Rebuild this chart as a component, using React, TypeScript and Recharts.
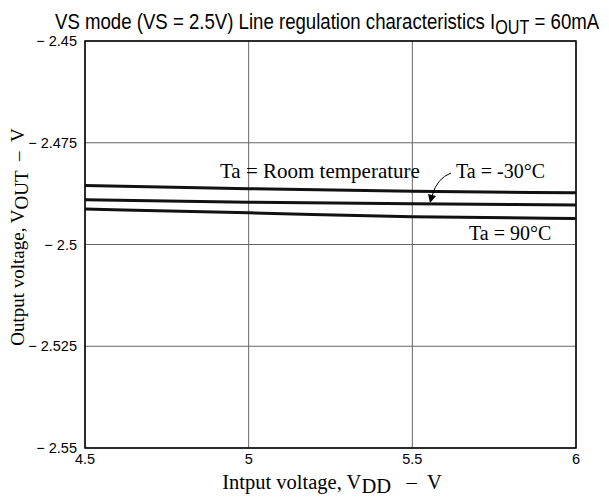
import React from "react";
import {
  LineChart,
  Line,
  XAxis,
  YAxis,
  CartesianGrid,
  ReferenceArea,
} from "recharts";

// input voltage VDD (V)
const inputVoltage = [4.5, 5, 5.5, 6];
// output voltage VOUT (V) for each ambient temperature
const roomTemp = [-2.4855, -2.4863, -2.4869, -2.4873];
const minus30 = [-2.489, -2.4896, -2.49, -2.4903];
const plus90 = [-2.4913, -2.4922, -2.4932, -2.4936];

const xTicks = [4.5, 5, 5.5, 6];
const yTicks = [-2.55, -2.525, -2.5, -2.475, -2.45];

const data = inputVoltage.map((v, i) => ({
  vdd: v,
  room: roomTemp[i],
  m30: minus30[i],
  p90: plus90[i],
}));

const sans = "'Liberation Sans', Arial, sans-serif";
const serif = "'Liberation Serif', 'Times New Roman', serif";
const sp = "\u00a0";

const App: React.FC = () => {
  return (
    <div style={{ position: "absolute", left: 0, top: 0, width: 609, height: 501, background: "#fff" }}>
      <LineChart
        width={609}
        height={501}
        data={data}
        margin={{ top: 41, right: 33, bottom: 23, left: 25 }}
      >
        <CartesianGrid stroke="#666" strokeWidth={1} />
        <XAxis
          dataKey="vdd"
          type="number"
          domain={[4.5, 6]}
          ticks={xTicks}
          height={30}
          tickLine={false}
          axisLine={false}
          tickSize={4}
          tick={{ fill: "#000", fontSize: 14.5, fontFamily: sans }}
        />
        <YAxis
          type="number"
          domain={[-2.55, -2.45]}
          ticks={yTicks}
          width={60}
          tickLine={false}
          axisLine={false}
          tickSize={6}
          tickFormatter={(v: number) => `\u2212 ${Math.abs(v)}`}
          tick={{ fill: "#000", fontSize: 14.5, fontFamily: sans }}
        />
        <ReferenceArea
          x1={4.5}
          x2={6}
          y1={-2.55}
          y2={-2.45}
          fill="none"
          stroke="#000"
          strokeWidth={1.5}
          strokeOpacity={1}
        />
        <Line dataKey="room" type="monotone" stroke="#111" strokeWidth={3} dot={false} isAnimationActive={false} />
        <Line dataKey="m30" type="monotone" stroke="#111" strokeWidth={3} dot={false} isAnimationActive={false} />
        <Line dataKey="p90" type="monotone" stroke="#111" strokeWidth={3} dot={false} isAnimationActive={false} />
      </LineChart>
      <svg
        width={609}
        height={501}
        style={{ position: "absolute", left: 0, top: 0, pointerEvents: "none" }}
      >
        <text
          transform="translate(55, 29) scale(0.81, 1)"
          x={0}
          y={0}
          fontFamily={sans}
          fontSize={23}
          fill="#000"
        >
          VS mode (VS = 2.5V) Line regulation characteristics I
          <tspan fontSize={20} dy={5}>OUT</tspan>
          <tspan dy={-5}>{" = 60mA"}</tspan>
        </text>
        <text
          transform="translate(24, 237) rotate(-90)"
          textAnchor="middle"
          fontFamily={serif}
          fontSize={19}
          fill="#000"
        >
          Output voltage, V
          <tspan dy={4}>OUT</tspan>
          <tspan dy={-4}>{`${sp}${sp}\u2013${sp}${sp}V`}</tspan>
        </text>
        <text x={332} y={489} textAnchor="middle" fontFamily={serif} fontSize={20.5} fill="#000">
          Intput voltage, V
          <tspan dy={4}>DD</tspan>
          <tspan dy={-4}>{`${sp}${sp}${sp}\u2013${sp}${sp}V`}</tspan>
        </text>
        <text x={220} y={178} fontFamily={serif} fontSize={21} fill="#000">
          Ta = Room temperature
        </text>
        <text x={456} y={178} fontFamily={serif} fontSize={20} fill="#000">
          Ta = -30°C
        </text>
        <text x={469} y={240} fontFamily={serif} fontSize={20} fill="#000">
          Ta = 90°C
        </text>
        <path d="M 451 173 Q 437 178 432 196" fill="none" stroke="#000" strokeWidth={1} />
        <path d="M 428 194 L 430 203 L 436 196 Z" fill="#000" />
      </svg>
    </div>
  );
};

export default App;
